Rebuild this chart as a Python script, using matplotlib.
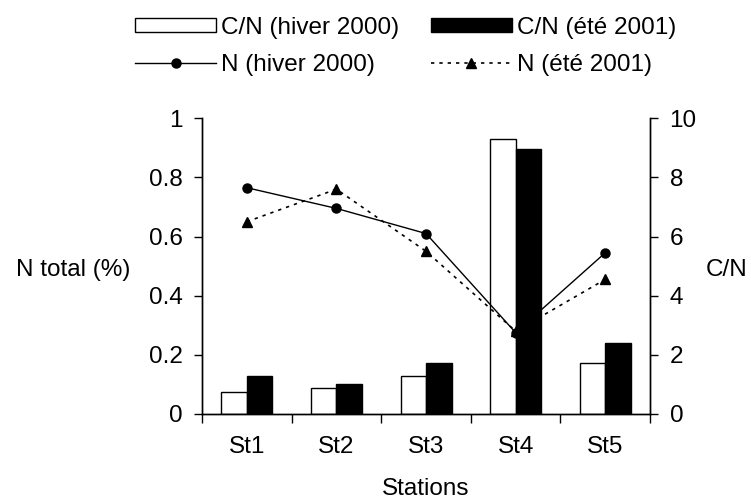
import matplotlib.pyplot as plt
import numpy as np

plt.rcParams['font.family'] = ['Liberation Sans', 'DejaVu Sans']

stations = ['St1', 'St2', 'St3', 'St4', 'St5']
cn_hiver = [0.75, 0.87, 1.28, 9.3, 1.74]
cn_ete = [1.28, 1.0, 1.74, 8.97, 2.41]
n_hiver = [0.765, 0.695, 0.61, 0.275, 0.545]
n_ete = [0.65, 0.76, 0.55, 0.28, 0.455]

x = np.arange(len(stations))
fs = 17.5

fig = plt.figure(figsize=(7.51, 5.03), dpi=100)
ax = fig.add_axes([0.269, 0.177, 0.5966, 0.588])
ax2 = ax.twinx()

# C/N bars on the right axis
w = 0.285
b1 = ax2.bar(x - w / 2, cn_hiver, w, color='white', edgecolor='black', linewidth=1, zorder=2)
b2 = ax2.bar(x + w / 2, cn_ete, w, color='black', edgecolor='black', linewidth=1, zorder=2)
ax2.set_ylim(0, 10)
ax2.set_yticks([0, 2, 4, 6, 8, 10])

# N lines on the left axis, drawn above the bars
ax.set_zorder(ax2.get_zorder() + 1)
ax.patch.set_visible(False)
l1, = ax.plot(x, n_hiver, color='black', lw=1, marker='o', ms=6.5)
l2, = ax.plot(x, n_ete, color='black', lw=1.2, ls=(0, (2, 3)), marker='^', ms=6.5)
ax.set_ylim(0, 1)
ax.set_yticks([0, 0.2, 0.4, 0.6, 0.8, 1])
ax.set_yticklabels(['0', '0.2', '0.4', '0.6', '0.8', '1'])
ax.set_xlim(-0.5, 4.5)
ax.set_xticks(x)
ax.set_xticklabels(stations)
ax.set_xticks(np.arange(-0.5, 5, 1), minor=True)
ax.tick_params(axis='x', which='major', length=0, pad=16, labelsize=fs)
ax.tick_params(axis='x', which='minor', length=6.5, direction='out', width=1)
ax.tick_params(axis='y', length=6, width=1, labelsize=fs, pad=8)
ax2.tick_params(axis='y', length=6, width=1, labelsize=fs, pad=8)

for a in (ax, ax2):
    a.spines['top'].set_visible(False)
    for s in ('left', 'right', 'bottom'):
        a.spines[s].set_linewidth(1)

ax.set_xlabel('Stations', fontsize=fs, labelpad=14)
fig.text(0.021, 0.463, 'N total (%)', fontsize=fs, va='center', ha='left')
fig.text(0.94, 0.463, 'C/N', fontsize=fs, va='center', ha='left')

fig.legend([b1, l1, b2, l2],
           ['C/N (hiver 2000)', 'N (hiver 2000)', 'C/N (été 2001)', 'N (été 2001)'],
           ncol=2, loc='center', bbox_to_anchor=(0.54, 0.908), frameon=False,
           fontsize=fs, handlelength=3.33, handleheight=0.55, handletextpad=0.2,
           columnspacing=1.3, labelspacing=0.62)

fig.savefig('out.png', dpi=100, facecolor='white')
